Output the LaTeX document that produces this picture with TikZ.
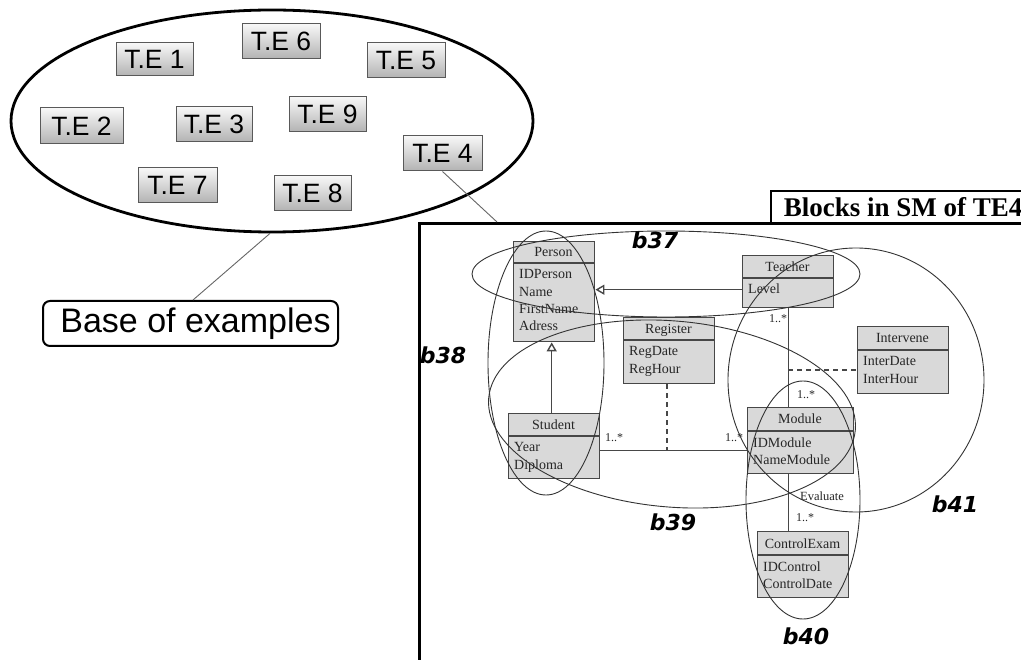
\documentclass[tikz,border=0pt]{standalone}
\usepackage{fontspec}
\setmainfont{Liberation Serif}
\newfontfamily\arialf{Liberation Sans}
\newfontfamily\blockfont{DejaVu Sans}
\usetikzlibrary{arrows.meta,shapes.geometric}

\tikzset{
  tebox/.style={rectangle, draw=black!65, line width=1pt, top color=black!3, bottom color=black!30,
    inner sep=0pt, font=\arialf\fontsize{26.5}{28}\selectfont},
  basebox/.style={rectangle, rounded corners=7pt, draw=black, line width=2pt, inner sep=0pt,
    font=\arialf\fontsize{34}{38}\selectfont},
  poolshape/.style={ellipse, draw=black, line width=2.8pt, inner sep=0pt},
  thinlink/.style={draw=black!60, line width=0.9pt},
  frameshape/.style={rectangle, draw=black, line width=2.6pt, inner sep=0pt},
  titlebox/.style={rectangle, draw=black, line width=2.2pt, fill=white, inner sep=0pt,
    font=\fontsize{27}{29}\selectfont\bfseries},
  clsbox/.style={rectangle, draw=black!72, fill=black!15, line width=1.4pt, inner sep=0pt},
  clsrule/.style={draw=black!72, line width=1.4pt},
  clstext/.style={inner sep=0pt, font=\fontsize{14}{16}\selectfont, text=black!85},
  assoc/.style={draw=black!72, line width=1.4pt},
  assocdash/.style={draw=black!72, line width=1.8pt, dash pattern=on 5pt off 4pt},
  genarrow/.style={assoc, -{Triangle[open, length=9pt, width=10pt, fill=white]}},
  mult/.style={inner sep=0pt, font=\fontsize{12}{14}\selectfont, text=black!85},
  blockring/.style={ellipse, draw=black!80, line width=0.9pt, inner sep=0pt},
  blocktag/.style={inner sep=0pt, font=\blockfont\bfseries\itshape\fontsize{22}{24}\selectfont},
}

% #1 name, #2 left, #3 top, #4 right, #5 bottom, #6 rule under the name, #7 class name, #8 attributes
\newcommand{\umlclass}[8]{%
  \node[clsbox, anchor=north west, minimum width={#4-#2}, minimum height={#5-#3}] (#1) at (#2,#3) {};
  \draw[clsrule] (#2,#6) -- (#4,#6);
  \node[clstext, anchor=base] (#1-name) at ({(#2+#4)/2},{(#3+#6)/2+5}) {#7};
  \foreach \attr [count=\k] in {#8}
    \node[clstext, anchor=base west] (#1-attr\k) at (#2+6,{#6+16+(\k-1)*17.3}) {\attr};
}

\begin{document}
\begin{tikzpicture}[x=1pt,y=-1pt]
\useasboundingbox (0,0) rectangle (1021,660);
\fill[white] (0,0) rectangle (1021,660);
\clip (0,0) rectangle (1021,660);

% ---- base of examples ----
\node[poolshape, minimum width=522, minimum height=222] (pool) at (272,121) {};
\node[tebox, minimum width=77, minimum height=33] (te1) at (154.5,59.5) {T.E 1};
\node[tebox, minimum width=78, minimum height=35] (te6) at (281,41.5) {T.E 6};
\node[tebox, minimum width=78, minimum height=35] (te5) at (406,60.5) {T.E 5};
\node[tebox, minimum width=83, minimum height=36] (te2) at (81.5,126) {T.E 2};
\node[tebox, minimum width=76, minimum height=35] (te3) at (214,124.5) {T.E 3};
\node[tebox, minimum width=77, minimum height=35] (te9) at (327.5,114.5) {T.E 9};
\node[tebox, minimum width=79, minimum height=35] (te4) at (442.5,153.5) {T.E 4};
\node[tebox, minimum width=79, minimum height=35] (te7) at (177.5,185.5) {T.E 7};
\node[tebox, minimum width=77, minimum height=35] (te8) at (312.5,193.5) {T.E 8};

\node[basebox, minimum width=295, minimum height=45] (bex) at (190.5,323.5) {\hspace{10pt}Base of examples};
\draw[thinlink] ([xshift=-2pt]pool.south) -- ([xshift=2.5pt]bex.north);

% ---- blocks of TE4 ----
\node[frameshape, anchor=north west, minimum width=640, minimum height=460] (smframe) at (418,222) {};
\node[titlebox, anchor=north west, minimum width=264, minimum height=32] (blocks) at (770,190) {Blocks in SM of TE4};
\coordinate (tejoin) at (497,222);
\draw[thinlink] (te4.south) -- (tejoin);

% classes
\umlclass{person}{513}{241}{594}{341}{263}{Person}{IDPerson,Name,FirstName,Adress}
\umlclass{teacher}{742}{255}{833}{307}{278}{Teacher}{Level}
\umlclass{register}{623}{317}{714}{383}{340}{Register}{RegDate,RegHour}
\umlclass{student}{508}{413}{599}{478}{436}{Student}{Year,Diploma}
\umlclass{intervene}{857}{326}{948}{393}{350}{Intervene}{InterDate,InterHour}
\umlclass{module}{747}{407}{853}{473}{431}{Module}{IDModule,NameModule}
\umlclass{controlexam}{757}{531}{848}{597}{555}{ControlExam}{IDControl,ControlDate}

% relations
\draw[genarrow] ([yshift=-8pt]teacher.west) -- ([yshift=2pt]person.east);
\draw[genarrow] ([xshift=-2.5pt]student.north) -- ([xshift=-2.5pt]person.south);
\coordinate (assocL) at ([yshift=-4.5pt]student.east);
\draw[assoc] (assocL) -- (assocL -| module.west);
\draw[assocdash] ([xshift=-2.5pt]register.south) -- ([xshift=-2.5pt]register.south |- assocL);
\draw[assoc] (teacher.south) -- (teacher.south |- module.north);
\coordinate (ivJ) at ([yshift=-9.5pt]intervene.west);
\draw[assocdash] (ivJ -| teacher.south) -- (ivJ);
\draw[assoc] (teacher.south |- module.south) -- (teacher.south |- controlexam.north);

\node[mult] (m1) at (614,438) {1..*};
\node[mult] (m2) at (734,438) {1..*};
\node[mult] (m3) at (778,319) {1..*};
\node[mult] (m4) at (806,395) {1..*};
\node[mult] (m5) at (805,518) {1..*};
\node[mult, font=\fontsize{12.5}{14}\selectfont] (evl) at (822,496) {Evaluate};

% blocks
\node[blockring, minimum width=388, minimum height=86] (b37ring) at (666,274) {};
\node[blockring, minimum width=116, minimum height=264] (b38ring) at (546,363) {};
\node[blockring, minimum width=368, minimum height=186, rotate=-5] (b39ring) at (672,414) {};
\node[blockring, minimum width=114, minimum height=238] (b40ring) at (803,500) {};
\node[blockring, minimum width=256, minimum height=264] (b41ring) at (856,380) {};

\node[blocktag] (b37) at (655,240) {b37};
\node[blocktag] (b38) at (443,355) {b38};
\node[blocktag] (b39) at (673,522) {b39};
\node[blocktag] (b40) at (806,636) {b40};
\node[blocktag] (b41) at (955,504) {b41};
\end{tikzpicture}
\end{document}
